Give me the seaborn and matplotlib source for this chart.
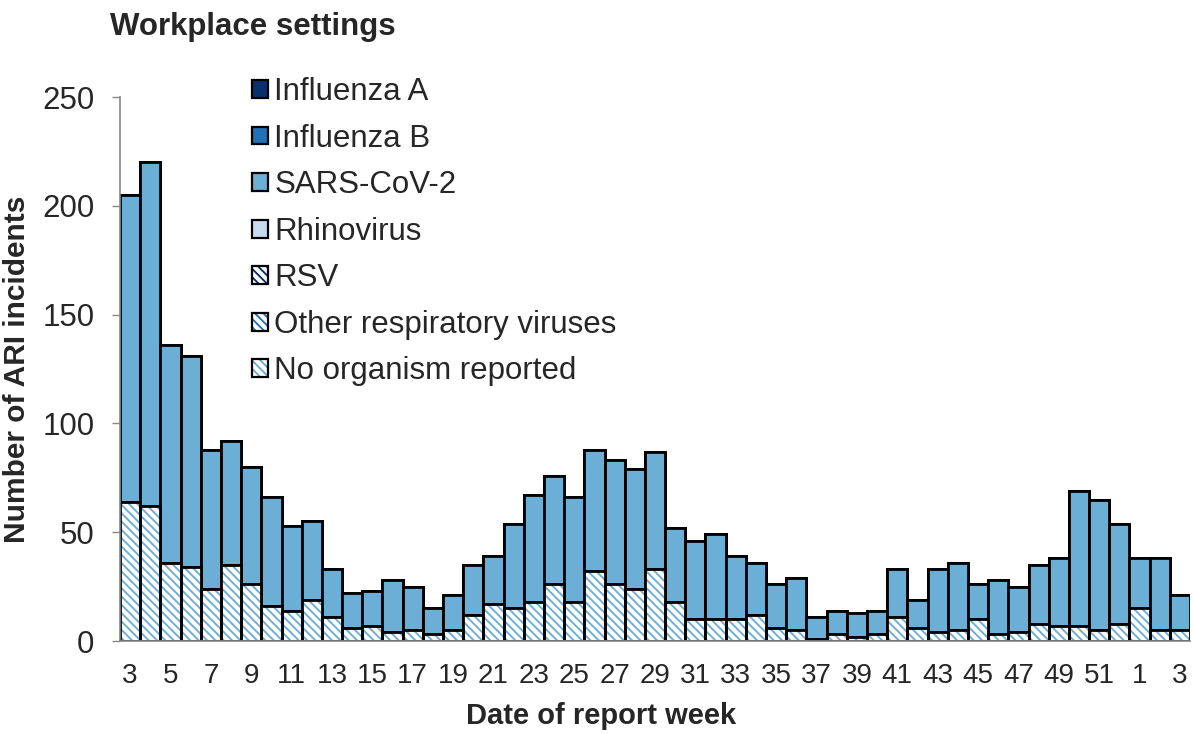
import numpy as np
import pandas as pd
import seaborn as sns
import matplotlib.pyplot as plt
from matplotlib.patches import Patch
from matplotlib.legend_handler import HandlerTuple

# report weeks (week 3 of one year to week 3 of the next)
weeks = list(range(3, 53)) + [1, 2, 3]

# counts per organism
influenza_a = [0] * 53
influenza_b = [0] * 53
rhinovirus = [0] * 53
rsv = [0] * 53
other_resp = [0] * 53
no_organism = [64, 62, 36, 34, 24, 35, 26, 16, 14, 19, 11, 6, 7, 4, 5, 3, 5, 12, 17, 15,
               18, 26, 18, 32, 26, 24, 33, 18, 10, 10, 10, 12, 6, 5, 1, 3, 2, 3, 11, 6,
               4, 5, 10, 3, 4, 8, 7, 7, 5, 8, 15, 5, 5]
sars_cov_2 = [141, 158, 100, 97, 64, 57, 54, 50, 39, 36, 22, 16, 16, 24, 20, 12, 16, 23, 22, 39,
              49, 50, 48, 56, 57, 55, 54, 34, 36, 39, 29, 24, 20, 24, 10, 11, 11, 11, 22, 13,
              29, 31, 16, 25, 21, 27, 31, 62, 60, 46, 23, 33, 16]

series_names = ["Influenza A", "Influenza B", "SARS-CoV-2", "Rhinovirus", "RSV",
                "Other respiratory viruses", "No organism reported"]
series_vals = [influenza_a, influenza_b, sars_cov_2, rhinovirus, rsv, other_resp, no_organism]
series_cols = ["#08306B", "#2171B5", "#6BAED6", "#C6DBEF", "#08306B", "#2171B5", "#6BAED6"]
series_hatch = [None, None, None, None, "\\\\\\\\", "\\\\\\\\", "\\\\\\\\"]

df = pd.DataFrame(dict(zip(series_names, series_vals)))
df["pos"] = np.arange(len(weeks))

sns.set_style("white")
plt.rcParams["font.family"] = ["Liberation Sans", "DejaVu Sans"]
plt.rcParams["hatch.linewidth"] = 1.35

EDGE = 2.0

fig = plt.figure(figsize=(11.93, 7.34), dpi=100)
ax = fig.add_axes([0.1006, 0.1267, 0.8969, 0.7411])

# stacked bars: draw cumulative totals from the top layer down
stack_order = series_names[::-1]  # bottom first
handles = []
for name, col, hat in zip(series_names, series_cols, series_hatch):
    idx = stack_order.index(name)
    cum = df[stack_order[:idx + 1]].sum(axis=1)
    if hat is None:
        sns.barplot(x=df["pos"], y=cum, color=col, width=1.0, edgecolor="black",
                    linewidth=EDGE, saturation=1, ax=ax)
        handles.append(Patch(facecolor=col, edgecolor="black", linewidth=1.6))
    else:
        sns.barplot(x=df["pos"], y=cum, color="white", width=1.0, edgecolor=col,
                    hatch=hat, linewidth=0, saturation=1, ax=ax)
        sns.barplot(x=df["pos"], y=cum, fill=False, color="black", width=1.0,
                    linewidth=EDGE, ax=ax)
        handles.append((Patch(facecolor="white", edgecolor=col, hatch=hat, linewidth=0),
                        Patch(fill=False, edgecolor="black", linewidth=1.6)))

ax.set_xlim(-0.5, len(weeks) - 0.5)
ax.set_ylim(0, 250)
ax.set_yticks([0, 50, 100, 150, 200, 250])
ax.set_xticks(np.arange(0, len(weeks), 2))
ax.set_xticklabels([str(w) for w in weeks[::2]], fontsize=20)
ax.set_xticks(np.arange(-0.5, len(weeks), 1), minor=True)
ax.tick_params(axis="x", which="major", length=0, pad=16)
ax.tick_params(axis="x", which="minor", length=6, width=1, color="#888888", direction="out")
ax.tick_params(axis="y", length=5.5, width=1, color="#888888", labelsize=22.5, pad=13,
               direction="out", left=True)

for s in ["top", "right"]:
    ax.spines[s].set_visible(False)
for s in ["left", "bottom"]:
    ax.spines[s].set_color("#888888")
    ax.spines[s].set_linewidth(1.2)

ax.set_xlabel("Date of report week", fontsize=21, fontweight="bold")
ax.xaxis.set_label_coords(0.45, -0.112)
ax.set_ylabel("Number of ARI incidents", fontsize=21.5, fontweight="bold")
ax.yaxis.set_label_coords(-0.083, 0.5)

fig.text(0.092, 0.952, "Workplace settings", fontsize=22.5, fontweight="bold", va="baseline")

ax.legend(handles, series_names, handler_map={tuple: HandlerTuple(ndivide=1, pad=0)},
          loc="upper left", bbox_to_anchor=(252 / 1193, 1 - 77 / 734),
          bbox_transform=fig.transFigure, frameon=False, fontsize=22.5,
          handlelength=0.5, handleheight=0.5, handletextpad=0.22,
          labelspacing=0.53, borderpad=0, borderaxespad=0)

fig.savefig("out.png", dpi=100)
